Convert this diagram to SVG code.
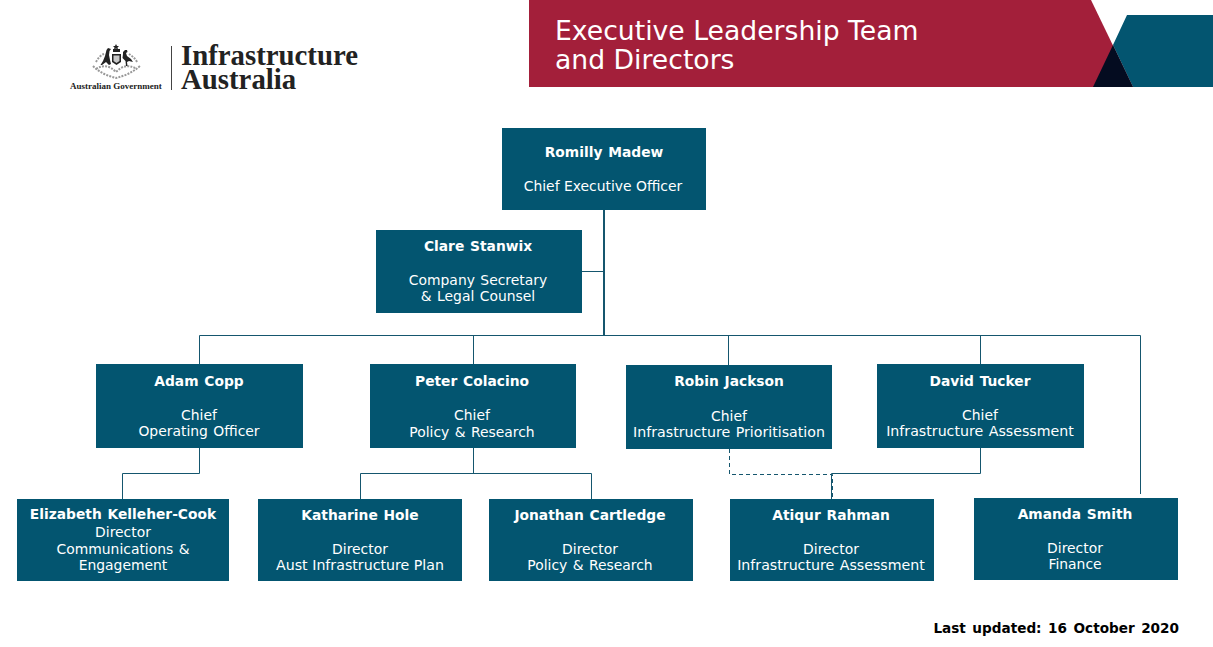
<svg xmlns="http://www.w3.org/2000/svg" width="1213" height="647" viewBox="0 0 1213 647">
<style>
text{font-family:"DejaVu Sans",Verdana,sans-serif;font-size:13.9px;fill:#fff;text-anchor:middle;word-spacing:1px}
.b{font-weight:700;font-size:13.8px}
.box{fill:#035570}
.c{fill:none;stroke:#15566e;stroke-width:1}
.logo{font-family:"Liberation Serif",serif;font-weight:700;fill:#222;text-anchor:start;word-spacing:0}
</style>
<rect width="1213" height="647" fill="#fff"/>
<g id="banner">
<polygon points="529,0 1091,0 1133,87 529,87" fill="#a31f3a"/>
<polygon points="1127,15 1213,15 1213,87 1133,87 1113,45" fill="#035570"/>
<polygon points="1113,45 1133,87 1093,87" fill="#040c20"/>
<text x="555" y="40" style="font-size:26.650px;fill:#fff;text-anchor:start;word-spacing:0">Executive Leadership Team</text>
<text x="555" y="69" style="font-size:26.650px;fill:#fff;text-anchor:start;word-spacing:0">and Directors</text>
</g>
<g id="logo">
<g fill="none" stroke="#999" stroke-width="2" stroke-dasharray="2 1.200">
<path d="M93 66C100 73 108 76 116 78C124 76 132 73 140 66"/>
<path d="M96 62C98 58 101 55 104 54M137 62C135 58 132 56 129 54"/>
<path d="M96 69C104 64 110 66 116 72C122 66 128 64 137 69"/>
</g>
<g fill="#222">
<path d="M116 44l1 2 2 0-1.500 1.500 .5 2-2-1-2 1 .5-2-1.500-1.500 2 0z"/>
<path d="M108 48l3 1-1.500 2-.5 4 1 5 1 4-2 1-3-3-4 3-1.500 0 2.500-4 2-5 1.500-6z"/>
<path d="M123 52l2-2 2 0 .5 2-1.500 1 1 3 4 3 2 3-4-1-2 1 .5 4-1.500 0-.5-5-3-3 .5-4z"/>
<path d="M112 54h9v8l-4.500 3-4.500-3z"/>
<rect x="113" y="49" width="7" height="3"/>
</g>
<path d="M113.500 55.500h6v5.500l-3 2-3-2z" fill="#c8c8c8"/>
<text class="logo" x="70" y="89" style="font-size:9px;fill:#222;text-anchor:start">Australian Government</text>
<rect x="171" y="46" width="1" height="44" fill="#444"/>
<text class="logo" x="181" y="65" style="font-size:28.800px;fill:#222;text-anchor:start">Infrastructure</text>
<text class="logo" x="181" y="89" style="font-size:28.800px;fill:#222;text-anchor:start">Australia</text>
</g>
<g id="connectors">
<path class="c" style="stroke-width:2" d="M604 210V335"/>
<path class="c" d="M582 271.500H604"/>
<path class="c" d="M199.500 364V335.500H1140.500V494"/>
<path class="c" d="M473.500 335V364M728.500 335V365M980.500 335V364"/>
<path class="c" d="M199.500 448V473.500H122.500V499"/>
<path class="c" d="M473.500 448V473.500M360.500 499V473.500H591.500V499"/>
<path class="c" d="M980.500 448V473.500H831.500V499"/>
<path class="c" stroke-dasharray="4 3" d="M729.500 449V474.500H832.500V499"/>
</g>
<g id="n-romilly"><rect class="box" x="502" y="128" width="204" height="82"/><text class="b" x="604" y="157">Romilly Madew</text><text x="603" y="191" style="word-spacing:0">Chief Executive Officer</text></g>
<g id="n-clare"><rect class="box" x="376" y="230" width="206" height="83"/><text class="b" x="478" y="251">Clare Stanwix</text><text x="478" y="285">Company Secretary</text><text x="478" y="301">&amp; Legal Counsel</text></g>
<g id="n-adam"><rect class="box" x="96" y="364" width="207" height="84"/><text class="b" x="199" y="386">Adam Copp</text><text x="199" y="420">Chief</text><text x="199" y="436">Operating Officer</text></g>
<g id="n-peter"><rect class="box" x="370" y="364" width="206" height="84"/><text class="b" x="472" y="386">Peter Colacino</text><text x="472" y="420">Chief</text><text x="472" y="437">Policy &amp; Research</text></g>
<g id="n-robin"><rect class="box" x="626" y="365" width="206" height="84"/><text class="b" x="729" y="386">Robin Jackson</text><text x="729" y="421">Chief</text><text x="729" y="437" style="font-size:14.200px">Infrastructure Prioritisation</text></g>
<g id="n-david"><rect class="box" x="877" y="364" width="207" height="84"/><text class="b" x="980" y="386">David Tucker</text><text x="980" y="420">Chief</text><text x="980" y="436" style="font-size:14.200px">Infrastructure Assessment</text></g>
<g id="n-elizabeth"><rect class="box" x="17" y="499" width="212" height="82"/><text class="b" x="123" y="519">Elizabeth Kelleher-Cook</text><text x="123" y="537">Director</text><text x="123" y="554">Communications &amp;</text><text x="123" y="570">Engagement</text></g>
<g id="n-katharine"><rect class="box" x="258" y="499" width="204" height="82"/><text class="b" x="360" y="520">Katharine Hole</text><text x="360" y="554">Director</text><text x="360" y="570" style="font-size:14.200px;word-spacing:0">Aust Infrastructure Plan</text></g>
<g id="n-jonathan"><rect class="box" x="489" y="499" width="204" height="82"/><text class="b" x="590" y="520">Jonathan Cartledge</text><text x="590" y="554">Director</text><text x="590" y="570">Policy &amp; Research</text></g>
<g id="n-atiqur"><rect class="box" x="730" y="499" width="204" height="82"/><text class="b" x="831" y="520">Atiqur Rahman</text><text x="831" y="554">Director</text><text x="831" y="570" style="font-size:14.200px">Infrastructure Assessment</text></g>
<g id="n-amanda"><rect class="box" x="974" y="498" width="204" height="82"/><text class="b" x="1075" y="519">Amanda Smith</text><text x="1075" y="553">Director</text><text x="1075" y="569">Finance</text></g>
<text x="1179" y="633" style="font-weight:700;font-size:13.600px;fill:#000;text-anchor:end;word-spacing:1.800px">Last updated: 16 October 2020</text>
</svg>
